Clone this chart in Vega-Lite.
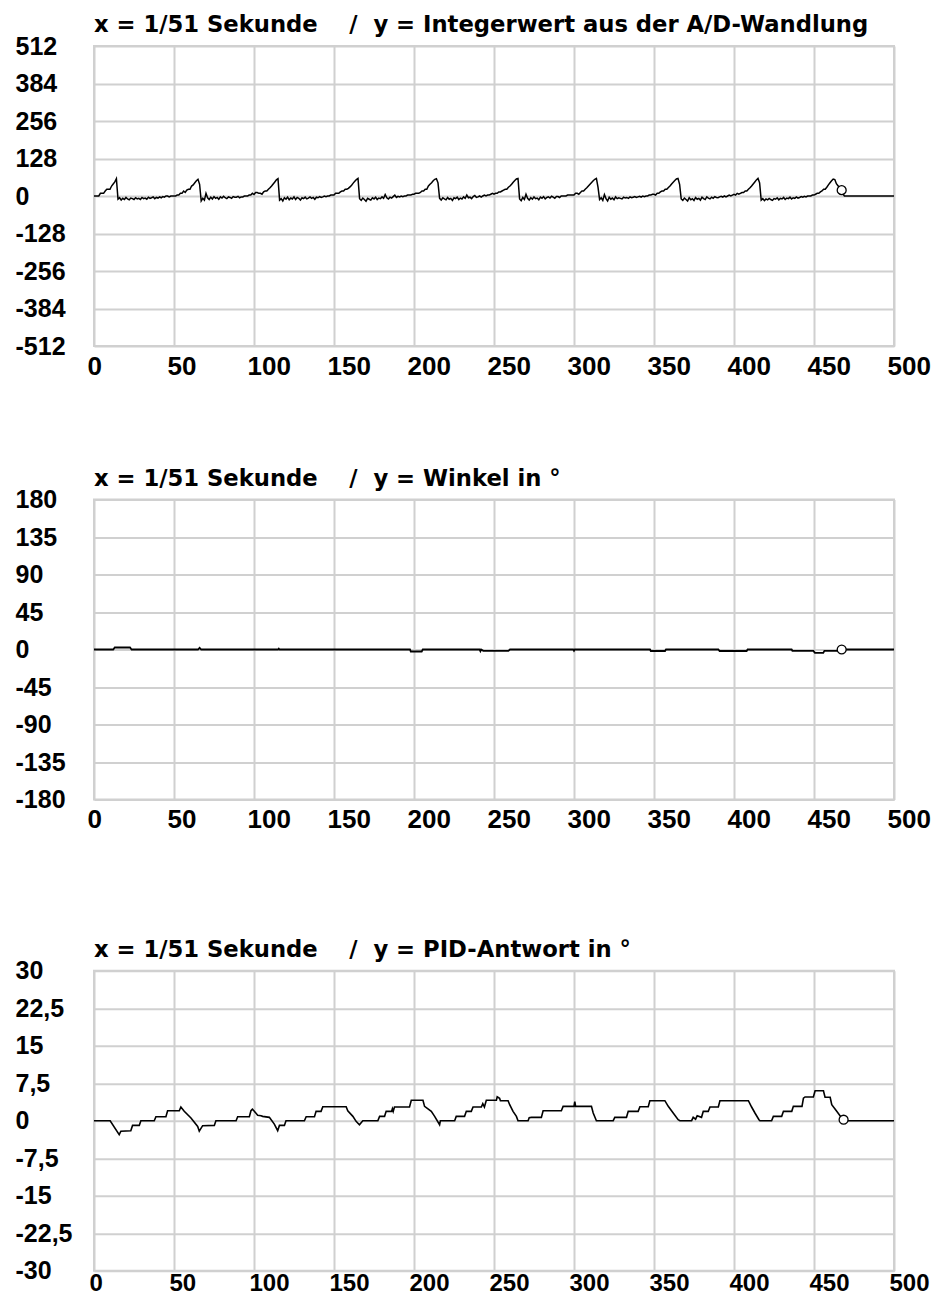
{
  "$schema": "https://vega.github.io/schema/vega-lite/v6.json",
  "background": "white",
  "padding": {"left": 14, "top": 13, "right": 5, "bottom": 1},
  "config": {
    "font": "Liberation Sans",
    "view": {"stroke": "#d0d0d0", "strokeWidth": 2},
    "axis": {"grid": true, "gridColor": "#d0d0d0", "gridWidth": 2, "domain": false, "ticks": false, "tickSize": 0, "labelFont": "Liberation Sans", "labelFontSize": 25, "labelFontWeight": "bold", "labelColor": "#000000", "labelFlush": false, "labelOverlap": false},
    "axisX": {"labelAlign": "left", "labelBaseline": "top", "labelPadding": 7, "labelFontSize": 26},
    "axisY": {"labelAlign": "left", "labelBaseline": "middle", "labelPadding": 79, "labelDy": 2},
    "title": {"anchor": "start", "frame": "group", "font": "DejaVu Sans", "fontSize": 22.7, "fontWeight": "bold", "color": "#000000", "baseline": "alphabetic", "offset": -3}
  },
  "datasets": {
    "d1": [
{"x":0,"y":0},{"x":1,"y":0},{"x":2,"y":0},{"x":3,"y":0},{"x":4,"y":9},{"x":5,"y":9},{"x":6,"y":9},{"x":7,"y":17},{"x":8,"y":23},{"x":9,"y":23},{"x":10,"y":23},{"x":11,"y":34},{"x":12,"y":41},{"x":13,"y":48},{"x":14,"y":59},
{"x":15,"y":-11},{"x":16,"y":-6},{"x":17,"y":-14},{"x":18,"y":-8},{"x":19,"y":-12},{"x":20,"y":-5},{"x":21,"y":-10},{"x":22,"y":-13},{"x":23,"y":-7},{"x":24,"y":-9},{"x":25,"y":-12},{"x":26,"y":-6},{"x":27,"y":-10},{"x":28,"y":-8},{"x":29,"y":-12},{"x":30,"y":-5},{"x":31,"y":-9},{"x":32,"y":-7},{"x":33,"y":-11},{"x":34,"y":-4},{"x":35,"y":-8},{"x":36,"y":-6},{"x":37,"y":-3},{"x":38,"y":-9},{"x":39,"y":-5},{"x":40,"y":-7},{"x":41,"y":-3},{"x":42,"y":-6},{"x":43,"y":-2},{"x":44,"y":-4},{"x":45,"y":0},{"x":46,"y":0},{"x":47,"y":-3},{"x":48,"y":0},{"x":49,"y":0},
{"x":50,"y":0},{"x":51,"y":0},{"x":52,"y":3},{"x":53,"y":3},{"x":54,"y":9},{"x":55,"y":9},{"x":56,"y":17},{"x":57,"y":12},{"x":58,"y":20},{"x":59,"y":23},{"x":60,"y":23},{"x":61,"y":34},{"x":62,"y":38},{"x":63,"y":45},{"x":64,"y":52},{"x":65,"y":57},{"x":66,"y":40},
{"x":67,"y":-17},{"x":68,"y":-8},{"x":69,"y":-14},{"x":70,"y":9},{"x":71,"y":-6},{"x":72,"y":-12},{"x":73,"y":-4},{"x":74,"y":-10},{"x":75,"y":-2},{"x":76,"y":-8},{"x":77,"y":-5},{"x":78,"y":-11},{"x":79,"y":-3},{"x":80,"y":-7},{"x":81,"y":-1},{"x":82,"y":-6},{"x":83,"y":-9},{"x":84,"y":-3},{"x":85,"y":-5},{"x":86,"y":-8},{"x":87,"y":-2},{"x":88,"y":-4},{"x":89,"y":-4},{"x":90,"y":-1},{"x":91,"y":-6},{"x":92,"y":-3},{"x":93,"y":-3},{"x":94,"y":0},{"x":95,"y":0},{"x":96,"y":0},{"x":97,"y":3},{"x":98,"y":3},{"x":99,"y":9},
{"x":100,"y":5},{"x":101,"y":12},{"x":102,"y":12},{"x":103,"y":9},{"x":104,"y":9},{"x":105,"y":6},{"x":106,"y":14},{"x":107,"y":17},{"x":108,"y":17},{"x":109,"y":23},{"x":110,"y":28},{"x":111,"y":34},{"x":112,"y":41},{"x":113,"y":48},{"x":114,"y":55},{"x":115,"y":59},
{"x":116,"y":-14},{"x":117,"y":-9},{"x":118,"y":-17},{"x":119,"y":-6},{"x":120,"y":-11},{"x":121,"y":-4},{"x":122,"y":-13},{"x":123,"y":-7},{"x":124,"y":-10},{"x":125,"y":-3},{"x":126,"y":-12},{"x":127,"y":-5},{"x":128,"y":-8},{"x":129,"y":-14},{"x":130,"y":-6},{"x":131,"y":-9},{"x":132,"y":-4},{"x":133,"y":-10},{"x":134,"y":-7},{"x":135,"y":-3},{"x":136,"y":-8},{"x":137,"y":-5},{"x":138,"y":-11},{"x":139,"y":-4},{"x":140,"y":-6},{"x":141,"y":-2},{"x":142,"y":-5},{"x":143,"y":-3},{"x":144,"y":0},{"x":145,"y":-2},{"x":146,"y":0},{"x":147,"y":0},
{"x":148,"y":3},{"x":149,"y":3},{"x":150,"y":3},{"x":151,"y":9},{"x":152,"y":9},{"x":153,"y":9},{"x":154,"y":14},{"x":155,"y":17},{"x":156,"y":17},{"x":157,"y":23},{"x":158,"y":23},{"x":159,"y":26},{"x":160,"y":31},{"x":161,"y":37},{"x":162,"y":44},{"x":163,"y":50},{"x":164,"y":56},{"x":165,"y":60},
{"x":166,"y":-9},{"x":167,"y":-15},{"x":168,"y":-7},{"x":169,"y":-12},{"x":170,"y":-18},{"x":171,"y":-8},{"x":172,"y":-11},{"x":173,"y":-14},{"x":174,"y":-6},{"x":175,"y":-10},{"x":176,"y":-4},{"x":177,"y":-12},{"x":178,"y":-7},{"x":179,"y":-9},{"x":180,"y":-3},{"x":181,"y":-8},{"x":182,"y":5},{"x":183,"y":-6},{"x":184,"y":-10},{"x":185,"y":-4},{"x":186,"y":-7},{"x":187,"y":-2},{"x":188,"y":3},{"x":189,"y":-5},{"x":190,"y":-1},{"x":191,"y":-3},{"x":192,"y":0},{"x":193,"y":-2},{"x":194,"y":0},{"x":195,"y":0},
{"x":196,"y":3},{"x":197,"y":3},{"x":198,"y":3},{"x":199,"y":6},{"x":200,"y":6},{"x":201,"y":9},{"x":202,"y":9},{"x":203,"y":9},{"x":204,"y":12},{"x":205,"y":17},{"x":206,"y":17},{"x":207,"y":23},{"x":208,"y":23},{"x":209,"y":34},{"x":210,"y":40},{"x":211,"y":45},{"x":212,"y":52},{"x":213,"y":57},{"x":214,"y":59},{"x":215,"y":45},
{"x":216,"y":-8},{"x":217,"y":-14},{"x":218,"y":-6},{"x":219,"y":-10},{"x":220,"y":-13},{"x":221,"y":-5},{"x":222,"y":-11},{"x":223,"y":-8},{"x":224,"y":-15},{"x":225,"y":-6},{"x":226,"y":-9},{"x":227,"y":-4},{"x":228,"y":-12},{"x":229,"y":-7},{"x":230,"y":-10},{"x":231,"y":-3},{"x":232,"y":-8},{"x":233,"y":3},{"x":234,"y":-6},{"x":235,"y":-4},{"x":236,"y":-9},{"x":237,"y":-2},{"x":238,"y":2},{"x":239,"y":-5},{"x":240,"y":-3},{"x":241,"y":0},{"x":242,"y":-4},{"x":243,"y":0},{"x":244,"y":3},{"x":245,"y":0},
{"x":246,"y":3},{"x":247,"y":3},{"x":248,"y":6},{"x":249,"y":9},{"x":250,"y":6},{"x":251,"y":9},{"x":252,"y":9},{"x":253,"y":14},{"x":254,"y":14},{"x":255,"y":17},{"x":256,"y":20},{"x":257,"y":23},{"x":258,"y":23},{"x":259,"y":30},{"x":260,"y":34},{"x":261,"y":40},{"x":262,"y":47},{"x":263,"y":53},{"x":264,"y":58},{"x":265,"y":60},
{"x":266,"y":-10},{"x":267,"y":-16},{"x":268,"y":-5},{"x":269,"y":-12},{"x":270,"y":6},{"x":271,"y":-8},{"x":272,"y":-14},{"x":273,"y":-6},{"x":274,"y":-11},{"x":275,"y":-3},{"x":276,"y":-9},{"x":277,"y":-7},{"x":278,"y":-13},{"x":279,"y":-4},{"x":280,"y":-8},{"x":281,"y":-2},{"x":282,"y":-10},{"x":283,"y":-5},{"x":284,"y":-3},{"x":285,"y":-7},{"x":286,"y":-1},{"x":287,"y":-4},{"x":288,"y":-8},{"x":289,"y":-2},{"x":290,"y":-2},{"x":291,"y":-5},{"x":292,"y":0},{"x":293,"y":0},{"x":294,"y":0},{"x":295,"y":0},
{"x":296,"y":3},{"x":297,"y":3},{"x":298,"y":3},{"x":299,"y":3},{"x":300,"y":3},{"x":301,"y":9},{"x":302,"y":9},{"x":303,"y":6},{"x":304,"y":12},{"x":305,"y":17},{"x":306,"y":17},{"x":307,"y":23},{"x":308,"y":28},{"x":309,"y":34},{"x":310,"y":40},{"x":311,"y":46},{"x":312,"y":52},{"x":313,"y":57},{"x":314,"y":60},{"x":315,"y":30},
{"x":316,"y":-12},{"x":317,"y":-6},{"x":318,"y":-15},{"x":319,"y":5},{"x":320,"y":-9},{"x":321,"y":-17},{"x":322,"y":-4},{"x":323,"y":-11},{"x":324,"y":-7},{"x":325,"y":-13},{"x":326,"y":-3},{"x":327,"y":-9},{"x":328,"y":-6},{"x":329,"y":-8},{"x":330,"y":-10},{"x":331,"y":-4},{"x":332,"y":-7},{"x":333,"y":-5},{"x":334,"y":-8},{"x":335,"y":-3},{"x":336,"y":-6},{"x":337,"y":-4},{"x":338,"y":-2},{"x":339,"y":-5},{"x":340,"y":-3},{"x":341,"y":-1},{"x":342,"y":-4},{"x":343,"y":0},{"x":344,"y":-2},{"x":345,"y":0},{"x":346,"y":0},
{"x":347,"y":3},{"x":348,"y":3},{"x":349,"y":6},{"x":350,"y":6},{"x":351,"y":3},{"x":352,"y":9},{"x":353,"y":9},{"x":354,"y":14},{"x":355,"y":17},{"x":356,"y":17},{"x":357,"y":23},{"x":358,"y":23},{"x":359,"y":29},{"x":360,"y":34},{"x":361,"y":41},{"x":362,"y":47},{"x":363,"y":53},{"x":364,"y":58},{"x":365,"y":60},{"x":366,"y":40},
{"x":367,"y":-10},{"x":368,"y":-15},{"x":369,"y":-7},{"x":370,"y":-12},{"x":371,"y":-17},{"x":372,"y":-6},{"x":373,"y":-13},{"x":374,"y":-9},{"x":375,"y":-15},{"x":376,"y":-5},{"x":377,"y":-11},{"x":378,"y":-8},{"x":379,"y":-14},{"x":380,"y":-4},{"x":381,"y":-9},{"x":382,"y":-12},{"x":383,"y":-3},{"x":384,"y":-7},{"x":385,"y":-10},{"x":386,"y":-4},{"x":387,"y":-8},{"x":388,"y":-2},{"x":389,"y":-5},{"x":390,"y":-6},{"x":391,"y":-3},{"x":392,"y":-1},{"x":393,"y":-4},{"x":394,"y":0},{"x":395,"y":-3},{"x":396,"y":0},
{"x":397,"y":3},{"x":398,"y":0},{"x":399,"y":3},{"x":400,"y":6},{"x":401,"y":3},{"x":402,"y":9},{"x":403,"y":6},{"x":404,"y":9},{"x":405,"y":12},{"x":406,"y":12},{"x":407,"y":17},{"x":408,"y":17},{"x":409,"y":23},{"x":410,"y":28},{"x":411,"y":34},{"x":412,"y":41},{"x":413,"y":48},{"x":414,"y":55},{"x":415,"y":60},{"x":416,"y":45},
{"x":417,"y":-14},{"x":418,"y":-9},{"x":419,"y":-16},{"x":420,"y":-10},{"x":421,"y":-13},{"x":422,"y":-8},{"x":423,"y":-12},{"x":424,"y":-15},{"x":425,"y":-9},{"x":426,"y":-11},{"x":427,"y":-6},{"x":428,"y":-13},{"x":429,"y":-8},{"x":430,"y":-10},{"x":431,"y":-5},{"x":432,"y":-12},{"x":433,"y":-7},{"x":434,"y":-9},{"x":435,"y":-4},{"x":436,"y":-10},{"x":437,"y":-6},{"x":438,"y":-8},{"x":439,"y":-3},{"x":440,"y":-7},{"x":441,"y":-5},{"x":442,"y":-2},{"x":443,"y":-4},{"x":444,"y":-1},{"x":445,"y":-3},{"x":446,"y":0},{"x":447,"y":0},{"x":448,"y":0},
{"x":449,"y":3},{"x":450,"y":3},{"x":451,"y":6},{"x":452,"y":9},{"x":453,"y":9},{"x":454,"y":14},{"x":455,"y":17},{"x":456,"y":23},{"x":457,"y":23},{"x":458,"y":30},{"x":459,"y":38},{"x":460,"y":45},{"x":461,"y":52},{"x":462,"y":58},{"x":463,"y":56},{"x":464,"y":42},{"x":465,"y":35},{"x":466,"y":28},{"x":467,"y":20},{"x":468,"y":8},{"x":469,"y":0},{"x":500,"y":0}
    ],
    "d2": [
{"x":0,"y":0},{"x":12,"y":0},{"x":13,"y":2.4},{"x":22.5,"y":2.4},{"x":23.5,"y":0},{"x":65,"y":0},{"x":66,"y":2},{"x":67,"y":0},{"x":115,"y":0},{"x":115.5,"y":1},{"x":116,"y":0},{"x":197.5,"y":0},{"x":198,"y":-2.4},{"x":204.8,"y":-2.4},{"x":205.5,"y":0},{"x":241,"y":0},{"x":241.5,"y":-2},{"x":242,"y":0},{"x":243.3,"y":-1.6},{"x":259,"y":-1.6},{"x":260,"y":0},{"x":299.5,"y":0},{"x":300,"y":-1.5},{"x":300.5,"y":0},{"x":347.5,"y":0},{"x":348,"y":-1.8},{"x":356.9,"y":-1.8},{"x":357.5,"y":0},{"x":390.2,"y":0},{"x":391,"y":-1.8},{"x":407.9,"y":-1.8},{"x":408.5,"y":0},{"x":436,"y":0},{"x":436.5,"y":-1.6},{"x":449.6,"y":-1.6},{"x":450.6,"y":-4},{"x":455.8,"y":-4},{"x":456.5,"y":-1.6},{"x":464.2,"y":-1.6},{"x":467.3,"y":0},{"x":500,"y":0}
    ],
    "d3": [
{"x":0,"y":0},{"x":10.1,"y":0},{"x":15.75,"y":-2.8},{"x":16.8,"y":-2.1},{"x":23,"y":-2.0},{"x":24.1,"y":-0.94},{"x":28.3,"y":-0.94},{"x":29.3,"y":0},{"x":37.65,"y":0},{"x":38.7,"y":0.8},{"x":44.95,"y":0.8},{"x":46,"y":2.0},{"x":53.3,"y":2.0},{"x":54.3,"y":2.75},{"x":56.4,"y":1.9},{"x":60.6,"y":0.53},{"x":64.8,"y":-1.14},{"x":65.8,"y":-2.1},{"x":67.9,"y":-1.0},{"x":75.2,"y":-0.94},{"x":76.2,"y":0},{"x":88.8,"y":0},{"x":89.8,"y":0.8},{"x":97.1,"y":0.8},{"x":98.1,"y":2.0},{"x":99,"y":2.3},{"x":100.2,"y":1.9},{"x":102.3,"y":1.1},{"x":104.4,"y":1.0},{"x":105.4,"y":0.87},{"x":109.6,"y":0.67},{"x":112.7,"y":-0.67},{"x":114.8,"y":-2.0},{"x":115.9,"y":-0.94},{"x":119,"y":-0.94},{"x":120,"y":0},{"x":131.5,"y":0},{"x":132.6,"y":0.8},{"x":137.8,"y":0.8},{"x":138.8,"y":1.87},{"x":141.9,"y":1.87},{"x":143,"y":2.8},{"x":157.6,"y":2.8},{"x":158.6,"y":2.0},{"x":161.8,"y":0.87},{"x":163.8,"y":-0.13},{"x":165.9,"y":-0.8},{"x":168,"y":0},{"x":177.4,"y":0},{"x":178.5,"y":0.87},{"x":181.6,"y":0.87},{"x":182.6,"y":1.87},{"x":186,"y":1.87},{"x":186.5,"y":2.4},{"x":187,"y":1.87},{"x":187.8,"y":2.74},{"x":197.2,"y":2.74},{"x":198.3,"y":4.08},{"x":205.6,"y":4.08},{"x":206.6,"y":2.87},{"x":210.8,"y":1.87},{"x":212.9,"y":0.87},{"x":216,"y":-0.8},{"x":216.5,"y":0},{"x":225.4,"y":0},{"x":226.4,"y":0.87},{"x":231.6,"y":0.87},{"x":232.7,"y":1.87},{"x":235.8,"y":1.87},{"x":236.9,"y":2.74},{"x":242.1,"y":2.74},{"x":243,"y":3.4},{"x":244,"y":2.74},{"x":245.2,"y":4.08},{"x":251.5,"y":4.08},{"x":252,"y":4.8},{"x":253.5,"y":4.5},{"x":254,"y":4.0},{"x":258.8,"y":4.0},{"x":259.8,"y":3.2},{"x":261.9,"y":1.87},{"x":264,"y":0.87},{"x":265,"y":0},{"x":271.3,"y":0},{"x":272,"y":0.6},{"x":273.4,"y":0.67},{"x":279.6,"y":0.67},{"x":280.7,"y":2.0},{"x":292.1,"y":2.0},{"x":293.2,"y":2.87},{"x":300,"y":2.87},{"x":300.5,"y":3.8},{"x":301,"y":2.87},{"x":310.9,"y":2.87},{"x":312,"y":1.54},{"x":314,"y":0},{"x":324.5,"y":0},{"x":325.5,"y":0.67},{"x":332.8,"y":0.67},{"x":333.9,"y":1.87},{"x":340.1,"y":1.87},{"x":341.2,"y":2.8},{"x":346.4,"y":2.8},{"x":347.4,"y":4.0},{"x":356.8,"y":4.0},{"x":358.9,"y":2.87},{"x":362,"y":1.54},{"x":365.1,"y":0.2},{"x":366.2,"y":0},{"x":373.5,"y":0},{"x":374.5,"y":0.67},{"x":376,"y":0.3},{"x":377,"y":1.0},{"x":379.7,"y":0.67},{"x":380.8,"y":1.87},{"x":383.9,"y":1.87},{"x":385,"y":2.74},{"x":390.2,"y":2.74},{"x":391.2,"y":4.0},{"x":409,"y":4.0},{"x":411,"y":2.74},{"x":413.1,"y":1.54},{"x":415.6,"y":0.2},{"x":416.2,"y":0},{"x":423.5,"y":0},{"x":424.6,"y":0.87},{"x":429.8,"y":0.87},{"x":430.9,"y":1.87},{"x":436.1,"y":1.87},{"x":437.1,"y":2.87},{"x":442.5,"y":2.87},{"x":443.4,"y":4.5},{"x":444.4,"y":4.75},{"x":449.6,"y":4.75},{"x":450.7,"y":6.0},{"x":455.9,"y":6.0},{"x":456.9,"y":4.68},{"x":460.1,"y":4.68},{"x":461.1,"y":3.2},{"x":464.2,"y":1.87},{"x":467.4,"y":0.5},{"x":469.4,"y":0},{"x":500,"y":0}
    ]
  },
  "spacing": 103.7,
  "vconcat": [
    {
      "bounds": "flush",
      "spacing": 153.5,
      "vconcat": [
        {
          "width": 800, "height": 300,
          "title": {"text": "x = 1/51 Sekunde\u00a0\u00a0\u00a0\u00a0/\u00a0\u00a0y = Integerwert aus der A/D-Wandlung"},
          "encoding": {
            "x": {"field": "x", "type": "quantitative", "title": null, "scale": {"domain": [0, 500], "nice": false, "zero": false}, "axis": {"values": [0, 50, 100, 150, 200, 250, 300, 350, 400, 450, 500], "labelOffset": -7}},
            "y": {"field": "y", "type": "quantitative", "title": null, "scale": {"domain": [-512, 512], "nice": false}, "axis": {"values": [-512, -384, -256, -128, 0, 128, 256, 384, 512], "labelExpr": "'' + datum.value"}}
          },
          "layer": [
            {"data": {"name": "d1"}, "mark": {"type": "line", "color": "#000000", "strokeWidth": 1.5}},
            {"data": {"values": [{"x": 467.3, "y": 20}]}, "mark": {"type": "point", "shape": "circle", "filled": true, "fill": "#ffffff", "stroke": "#000000", "strokeWidth": 1.3, "size": 80, "opacity": 1}}
          ]
        },
        {
          "width": 800, "height": 300,
          "title": {"text": "x = 1/51 Sekunde\u00a0\u00a0\u00a0\u00a0/\u00a0\u00a0y = Winkel in °"},
          "encoding": {
            "x": {"field": "x", "type": "quantitative", "title": null, "scale": {"domain": [0, 500], "nice": false, "zero": false}, "axis": {"values": [0, 50, 100, 150, 200, 250, 300, 350, 400, 450, 500], "labelOffset": -7}},
            "y": {"field": "y", "type": "quantitative", "title": null, "scale": {"domain": [-180, 180], "nice": false}, "axis": {"values": [-180, -135, -90, -45, 0, 45, 90, 135, 180], "labelExpr": "'' + datum.value"}}
          },
          "layer": [
            {"data": {"name": "d2"}, "mark": {"type": "line", "color": "#000000", "strokeWidth": 1.8}},
            {"data": {"values": [{"x": 467.3, "y": 0}]}, "mark": {"type": "point", "shape": "circle", "filled": true, "fill": "#ffffff", "stroke": "#000000", "strokeWidth": 1.3, "size": 80, "opacity": 1}}
          ]
        }
      ]
    },
    {
      "width": 800, "height": 300,
      "title": {"text": "x = 1/51 Sekunde\u00a0\u00a0\u00a0\u00a0/\u00a0\u00a0y = PID-Antwort in °"},
      "encoding": {
        "x": {"field": "x", "type": "quantitative", "title": null, "scale": {"domain": [0, 500], "nice": false, "zero": false}, "axis": {"values": [0, 50, 100, 150, 200, 250, 300, 350, 400, 450, 500], "labelPadding": 1, "labelFontSize": 24, "labelOffset": -5}},
        "y": {"field": "y", "type": "quantitative", "title": null, "scale": {"domain": [-30, 30], "nice": false}, "axis": {"values": [-30, -22.5, -15, -7.5, 0, 7.5, 15, 22.5, 30], "labelExpr": "replace('' + datum.value, '.', ',')"}}
      },
      "layer": [
        {"data": {"name": "d3"}, "mark": {"type": "line", "color": "#000000", "strokeWidth": 1.6}},
        {"data": {"values": [{"x": 468.5, "y": 0.2}]}, "mark": {"type": "point", "shape": "circle", "filled": true, "fill": "#ffffff", "stroke": "#000000", "strokeWidth": 1.3, "size": 80, "opacity": 1}}
      ]
    }
  ]
}
